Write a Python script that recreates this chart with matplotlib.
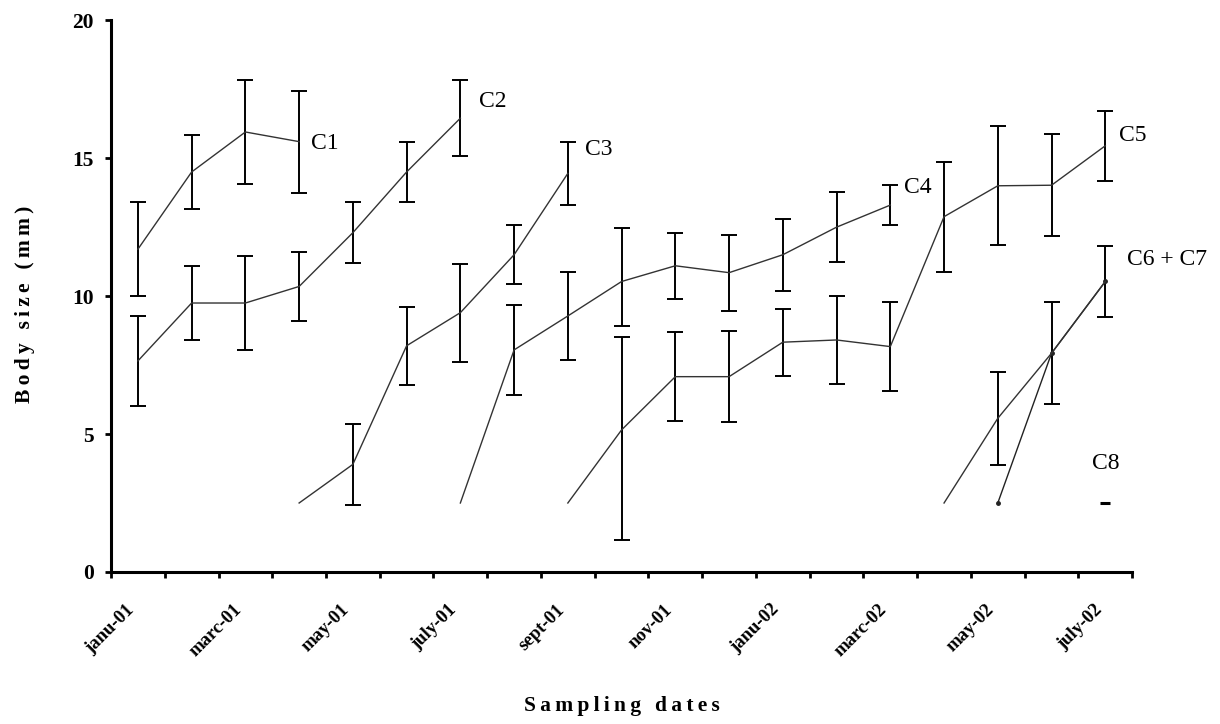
import numpy as np
import matplotlib
matplotlib.use("Agg")
import matplotlib.pyplot as plt

##########
########## Data
##########

months = ["janu-01", "febr-01", "marc-01", "apri-01", "may-01", "june-01",
          "july-01", "augu-01", "sept-01", "octo-01", "nov-01", "dece-01",
          "janu-02", "febr-02", "marc-02", "apri-02", "may-02", "june-02",
          "july-02"]
shown_labels = ["janu-01", "marc-01", "may-01", "july-01", "sept-01",
                "nov-01", "janu-02", "marc-02", "may-02", "july-02"]

# each cohort: first month index, mean sizes, error (up, down)
c1_start = 0
c1 = [11.7, 14.5, 15.95, 15.6]
c1_up = [1.7, 1.35, 1.9, 1.85]
c1_dn = [1.7, 1.35, 1.9, 1.85]

c2_start = 0
c2 = [7.65, 9.75, 9.75, 10.35, 12.3, 14.5, 16.45]
c2_up = [1.63, 1.33, 1.7, 1.25, 1.1, 1.1, 1.38]
c2_dn = [1.63, 1.33, 1.7, 1.25, 1.1, 1.1, 1.38]

c3_start = 3
c3 = [2.5, 3.9, 8.2, 9.4, 11.5, 14.45]
c3_up = [np.nan, 1.47, 1.42, 1.78, 1.07, 1.15]
c3_dn = [np.nan, 1.47, 1.42, 1.78, 1.07, 1.15]

c4_start = 6
c4 = [2.5, 8.05, 9.28, 10.53, 11.1, 10.85, 11.5, 12.5, 13.3]
c4_up = [np.nan, 1.62, 1.6, 1.93, 1.2, 1.38, 1.3, 1.26, 0.74]
c4_dn = [np.nan, 1.62, 1.6, 1.63, 1.2, 1.38, 1.3, 1.26, 0.74]

c5_start = 8
c5 = [2.5, 5.15, 7.08, 7.08, 8.33, 8.41, 8.17, 12.88, 14.0, 14.02, 15.45]
c5_up = [np.nan, 3.36, 1.61, 1.64, 1.21, 1.6, 1.62, 2.0, 2.16, 1.84, 1.27]
c5_dn = [np.nan, 3.98, 1.61, 1.64, 1.21, 1.6, 1.62, 2.0, 2.16, 1.84, 1.27]

c6_start = 15
c6 = [2.5, 5.57, 7.93, 10.53]
c6_up = [np.nan, 1.68, 1.85, 1.29]
c6_dn = [np.nan, 1.68, 1.85, 1.29]

c7_start = 16
c7 = [2.5, 7.93, 10.53]

c8_start = 18
c8 = [2.5]

##########
########## Plot
##########

plt.rcParams['font.family'] = ['Liberation Serif', 'DejaVu Serif']

fig = plt.figure(figsize=(12.2, 7.24), dpi=100)
ax = fig.add_axes([0.091, 0.21, 0.837, 0.762])

def cohort(start, vals, up, dn):
	x = np.arange(start, start + len(vals))
	ax.errorbar(x, vals, yerr=[dn, up], color='#333333', lw=1.0,
	            ecolor='black', elinewidth=1.4, capsize=5.5, capthick=1.4)

def spaced(s):
	# letter-spaced axis titles
	return "\u2009".join(s)

cohort(c1_start, c1, c1_up, c1_dn)
cohort(c2_start, c2, c2_up, c2_dn)
cohort(c3_start, c3, c3_up, c3_dn)
cohort(c4_start, c4, c4_up, c4_dn)
cohort(c5_start, c5, c5_up, c5_dn)
cohort(c6_start, c6, c6_up, c6_dn)

x7 = np.arange(c7_start, c7_start + len(c7))
ax.plot(x7, c7, color='#222222', lw=1.0, marker='o', ms=2.5)
x8 = np.arange(c8_start, c8_start + len(c8))
ax.plot(x8, c8, ls='none', marker='_', ms=7, mew=2.2, color='black')

lab_kw = dict(fontsize=17, va='center', ha='left')
ax.text(3.22, 15.55, "C1", **lab_kw)
ax.text(6.34, 17.04, "C2", **lab_kw)
ax.text(8.31, 15.3, "C3", **lab_kw)
ax.text(14.26, 13.92, "C4", **lab_kw)
ax.text(18.25, 15.84, "C5", **lab_kw)
ax.text(18.4, 11.31, "C6 + C7", clip_on=False, **lab_kw)
ax.text(17.75, 3.95, "C8", **lab_kw)

ax.set_xlim(-0.5, len(months) - 0.5)
ax.set_ylim(0, 20)
ax.set_yticks([0, 5, 10, 15, 20])
ax.set_xticks(np.arange(-0.5, len(months), 1.0))
ax.set_xticklabels([])
ax.set_xticks([months.index(m) for m in shown_labels], minor=True)
ax.set_xticklabels(shown_labels, minor=True, rotation=45, ha='right',
                   va='top', fontsize=13.5, fontweight='bold')
ax.tick_params(axis='x', which='minor', length=0, pad=21)
ax.tick_params(axis='x', which='major', length=4.5, width=2, direction='out')
ax.tick_params(axis='y', length=4.5, width=2, direction='out', pad=8,
               labelsize=15.5)
for t in ax.get_yticklabels():
	t.set_fontweight('bold')

for s in ['top', 'right']:
	ax.spines[s].set_visible(False)
for s in ['left', 'bottom']:
	ax.spines[s].set_linewidth(2.2)

ax.set_ylabel(spaced("Body size (mm)"), fontsize=15.5, fontweight='bold')
ax.yaxis.set_label_coords(-0.074, 0.485)
ax.set_xlabel(spaced("Sampling dates"), fontsize=15.5, fontweight='bold')
ax.xaxis.set_label_coords(0.5, -0.224)

fig.savefig("out.png", dpi=100)
